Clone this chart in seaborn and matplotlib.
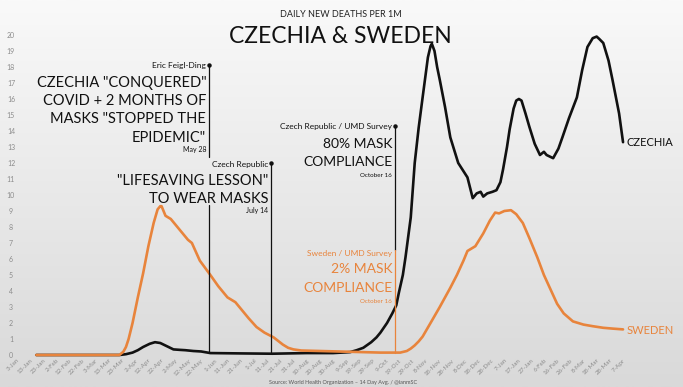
# czechia_sweden_deaths.py

import numpy as np
import pandas as pd
import matplotlib.pyplot as plt
import seaborn as sns

# Data (14 day avg, daily new deaths per 1M)
czechia_dates = ['2020-01-18', '2020-03-21', '2020-03-26', '2020-03-31', '2020-04-04', '2020-04-08',
                 '2020-04-13', '2020-04-17', '2020-04-21', '2020-04-26', '2020-05-01', '2020-05-06',
                 '2020-05-10', '2020-05-16', '2020-05-22', '2020-05-29', '2020-06-20', '2020-07-15',
                 '2020-08-10', '2020-08-30', '2020-09-12', '2020-09-17', '2020-09-22', '2020-09-28',
                 '2020-10-02', '2020-10-05', '2020-10-10', '2020-10-14', '2020-10-17', '2020-10-19',
                 '2020-10-22', '2020-10-24', '2020-10-28', '2020-10-31', '2020-11-03', '2020-11-06',
                 '2020-11-10', '2020-11-12', '2020-11-13', '2020-11-15', '2020-11-17', '2020-11-19',
                 '2020-11-23', '2020-11-27', '2020-12-03', '2020-12-10', '2020-12-14', '2020-12-17',
                 '2020-12-20', '2020-12-22', '2020-12-25', '2020-12-29', '2021-01-01', '2021-01-04',
                 '2021-01-06', '2021-01-09', '2021-01-11', '2021-01-14', '2021-01-16', '2021-01-18',
                 '2021-01-20', '2021-01-23', '2021-01-26', '2021-01-30', '2021-02-03', '2021-02-06',
                 '2021-02-08', '2021-02-13', '2021-02-17', '2021-02-20', '2021-02-25', '2021-03-03',
                 '2021-03-07', '2021-03-11', '2021-03-15', '2021-03-18', '2021-03-20', '2021-03-23',
                 '2021-03-27', '2021-03-30', '2021-04-04', '2021-04-07']
czechia_deaths = [0, 0, 0.05, 0.15, 0.3, 0.5,
                  0.7, 0.8, 0.75, 0.55, 0.35, 0.32,
                  0.3, 0.25, 0.22, 0.12, 0.1, 0.08,
                  0.12, 0.12, 0.18, 0.3, 0.45, 0.8,
                  1.1, 1.4, 2.0, 2.6, 3.1, 3.9,
                  5.0, 6.1, 8.6, 12.0, 14.2, 16.1,
                  18.6, 19.3, 19.45, 19.0, 18.0, 17.2,
                  15.5, 13.6, 12.0, 11.1, 9.8, 10.1,
                  10.2, 9.9, 10.1, 10.2, 10.3, 10.8,
                  11.6, 13.0, 14.1, 15.4, 15.9, 16.0,
                  15.9, 15.1, 14.25, 13.2, 12.5, 12.7,
                  12.5, 12.3, 12.9, 13.6, 14.8, 16.1,
                  17.8, 19.25, 19.8, 19.9, 19.75, 19.5,
                  18.4, 17.2, 15.1, 13.3]

sweden_dates = ['2020-01-18', '2020-03-21', '2020-03-24', '2020-03-26', '2020-03-28', '2020-03-31',
                '2020-04-04', '2020-04-08', '2020-04-12', '2020-04-16', '2020-04-19', '2020-04-21',
                '2020-04-22', '2020-04-25', '2020-04-29', '2020-05-04', '2020-05-08', '2020-05-12',
                '2020-05-15', '2020-05-21', '2020-05-29', '2020-06-04', '2020-06-11', '2020-06-17',
                '2020-06-21', '2020-06-27', '2020-07-03', '2020-07-09', '2020-07-16', '2020-07-23',
                '2020-07-27', '2020-07-31', '2020-08-06', '2020-08-20', '2020-09-12', '2020-10-05',
                '2020-10-20', '2020-10-25', '2020-10-28', '2020-10-31', '2020-11-03', '2020-11-06',
                '2020-11-12', '2020-11-19', '2020-11-27', '2020-12-02', '2020-12-07', '2020-12-10',
                '2020-12-16', '2020-12-22', '2020-12-27', '2020-12-31', '2021-01-03', '2021-01-07',
                '2021-01-12', '2021-01-16', '2021-01-21', '2021-01-26', '2021-02-01', '2021-02-06',
                '2021-02-11', '2021-02-16', '2021-02-21', '2021-02-28', '2021-03-08', '2021-03-15',
                '2021-03-23', '2021-03-30', '2021-04-07']
sweden_deaths = [0, 0, 0.2, 0.5, 1.0, 2.0,
                 3.6, 5.1, 6.8, 8.25, 9.1, 9.3,
                 9.3, 8.7, 8.5, 8.0, 7.6, 7.2,
                 7.0, 5.9, 5.0, 4.3, 3.6, 3.3,
                 2.9, 2.3, 1.75, 1.4, 1.1, 0.65,
                 0.45, 0.35, 0.28, 0.25, 0.2, 0.15,
                 0.15, 0.25, 0.4, 0.6, 0.85, 1.15,
                 2.0, 3.0, 4.2, 5.0, 5.9, 6.5,
                 6.8, 7.6, 8.4, 8.9, 8.85, 9.0,
                 9.05, 8.8, 8.25, 7.3, 6.1, 5.0,
                 4.1, 3.2, 2.6, 2.1, 1.9, 1.8,
                 1.7, 1.65, 1.6]

first_tick = '2020-01-03'
last_tick = '2021-04-07'

BLACK = '#111111'
ORANGE = '#e8843c'
GRAY = '#8c8c8c'

df = pd.concat([
    pd.DataFrame({'date': pd.to_datetime(czechia_dates), 'deaths': czechia_deaths, 'country': 'Czechia'}),
    pd.DataFrame({'date': pd.to_datetime(sweden_dates), 'deaths': sweden_deaths, 'country': 'Sweden'}),
])

sns.set_style('white')
plt.rcParams['font.family'] = ['Lato', 'DejaVu Sans']

fig = plt.figure(figsize=(6.83, 3.87), dpi=100)

# light gray gradient background
bg = fig.add_axes([0, 0, 1, 1], zorder=-10)
bg.imshow(np.linspace(0, 1, 256).reshape(-1, 1), aspect='auto',
          cmap=sns.blend_palette(['#f9f9f9', '#d9d9d9'], as_cmap=True),
          extent=[0, 1, 0, 1], origin='upper')
bg.axis('off')

ax = fig.add_axes([0.0242, 0.0827, 0.888, 0.8269])
ax.set_facecolor('none')

sns.lineplot(data=df, x='date', y='deaths', hue='country', hue_order=['Czechia', 'Sweden'],
             palette={'Czechia': BLACK, 'Sweden': ORANGE}, estimator=None, sort=False,
             linewidth=1.9, legend=False, ax=ax)
for line in ax.lines:
    line.set_clip_on(False)
    line.set_solid_joinstyle('round')

# axes
ticks = pd.date_range(first_tick, last_tick, freq='10D')
ax.set_xticks(ticks)
ax.set_xticklabels([f'{d.day}-{d:%b}' for d in ticks], rotation=45, ha='right',
                   rotation_mode='anchor', fontsize=4.5, color=GRAY)
ax.set_xlim(pd.Timestamp(first_tick), pd.Timestamp(last_tick))
ax.set_ylim(0, 20)
ax.set_yticks(range(21))
ax.set_yticklabels([str(i) for i in range(21)], fontsize=5, color=GRAY)
for lab in ax.get_yticklabels():
    lab.set_ha('center')
ax.tick_params(axis='y', length=0, pad=4)
ax.tick_params(axis='x', length=0, pad=2)
ax.set_xlabel('')
ax.set_ylabel('')
sns.despine(ax=ax, left=True, bottom=True)


def marker_line(date, top, bottom, color, dot=True, gap=None):
    d = pd.Timestamp(date)
    if gap:
        ax.plot([d, d], [top, gap[0]], color=color, lw=0.9)
        ax.plot([d, d], [gap[1], bottom], color=color, lw=0.9)
    else:
        ax.plot([d, d], [top, bottom], color=color, lw=0.9)
    if dot:
        ax.plot([d], [top], marker='o', ms=2.2, color=color)


def note(date, y, text, size, color=BLACK):
    ax.annotate(text, xy=(pd.Timestamp(date), y), xytext=(-2, 0), textcoords='offset points',
                ha='right', va='baseline', fontsize=size, color=color)


# May 28 annotation
marker_line('2020-05-28', 18.1, 0.12, BLACK, gap=(12.4, 9.4))
note('2020-05-28', 17.95, 'Eric Feigl-Ding', 6)
note('2020-05-28', 16.77, 'CZECHIA "CONQUERED"', 10.5)
note('2020-05-28', 15.62, 'COVID + 2 MONTHS OF', 10.5)
note('2020-05-28', 14.48, 'MASKS "STOPPED THE', 10.5)
note('2020-05-28', 13.33, 'EPIDEMIC"', 10.5)
note('2020-05-28', 12.69, 'May 28', 5)

# July 14 annotation
marker_line('2020-07-14', 12.0, 0.1, BLACK)
note('2020-07-14', 11.75, 'Czech Republic', 6)
note('2020-07-14', 10.62, '"LIFESAVING LESSON"', 10.5)
note('2020-07-14', 9.52, 'TO WEAR MASKS', 10.5)
note('2020-07-14', 8.86, 'July 14', 5)

# October 16 annotations
marker_line('2020-10-16', 14.3, 6.56, BLACK)
note('2020-10-16', 14.1, 'Czech Republic / UMD Survey', 6)
note('2020-10-16', 12.96, '80% MASK', 10)
note('2020-10-16', 11.81, 'COMPLIANCE', 10)
note('2020-10-16', 11.14, 'October 16', 4.5)

marker_line('2020-10-16', 6.56, 0.15, ORANGE, dot=False)
note('2020-10-16', 6.19, 'Sweden / UMD Survey', 6, ORANGE)
note('2020-10-16', 5.1, '2% MASK', 10, ORANGE)
note('2020-10-16', 3.96, 'COMPLIANCE', 10, ORANGE)
note('2020-10-16', 3.27, 'October 16', 4.5, ORANGE)

# series labels at line ends
ax.annotate('CZECHIA', xy=(pd.Timestamp(czechia_dates[-1]), czechia_deaths[-1]), xytext=(2.5, -3),
            textcoords='offset points', ha='left', va='baseline', fontsize=8, color=BLACK)
ax.annotate('SWEDEN', xy=(pd.Timestamp(sweden_dates[-1]), sweden_deaths[-1]), xytext=(2.5, -3),
            textcoords='offset points', ha='left', va='baseline', fontsize=8, color=ORANGE)

# titles
fig.text(0.499, 0.9548, 'DAILY NEW DEATHS PER 1M', ha='center', va='baseline', fontsize=6.5, color='#222222')
fig.text(0.4985, 0.8889, 'CZECHIA & SWEDEN', ha='center', va='baseline', fontsize=16.5, color=BLACK)
fig.text(0.502, 0.008, 'Source: World Health Organization \u2013 14 Day Avg. / @ianmSC', ha='center',
         va='baseline', fontsize=4, color='#555555')

plt.savefig('out.png', dpi=100)
